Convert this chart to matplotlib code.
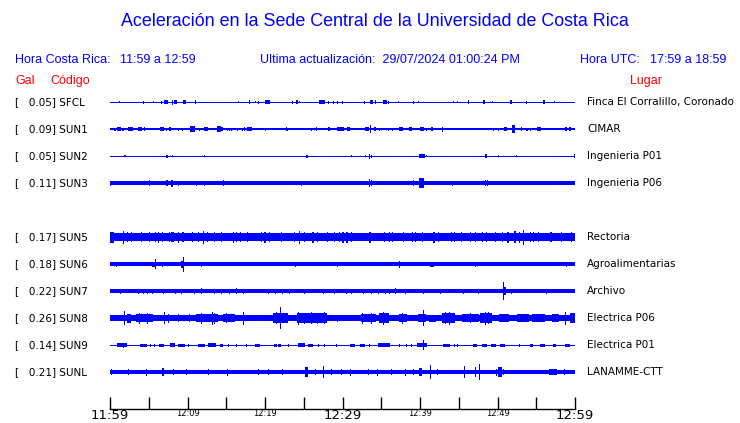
import matplotlib
matplotlib.use('Agg')
import matplotlib.pyplot as plt

# station rows (row 4 left empty, like the reference)
codes = ['SFCL', 'SUN1', 'SUN2', 'SUN3', 'SUN5', 'SUN6', 'SUN7', 'SUN8', 'SUN9', 'SUNL']
rows = [0, 1, 2, 3, 5, 6, 7, 8, 9, 10]
gal = [0.05, 0.09, 0.05, 0.11, 0.17, 0.18, 0.22, 0.26, 0.14, 0.21]
places = ['Finca El Corralillo, Coronado', 'CIMAR', 'Ingenieria P01', 'Ingenieria P06',
          'Rectoria', 'Agroalimentarias', 'Archivo', 'Electrica P06', 'Electrica P01',
          'LANAMME-CTT']
# background half thickness of each trace (pixels)
base = [0.5, 0.6, 0.5, 1.9, 3.8, 1.6, 1.8, 2.8, 0.5, 2.4]

tick_minutes = [0, 10, 20, 30, 40, 50, 60]
tick_labels = ['11:59', '12:09', '12:19', '12:29', '12:39', '12:49', '12:59']

# bursts: (minute after 11:59, half amplitude px, width px)
ev_sfcl = [(1.2, 1.2, 1), (4.3, 1.5, 1), (5.6, 1.2, 1), (6.6, 1.5, 1), (7.2, 2.0, 4), (8.0, 2.5, 1),
           (8.5, 2.0, 3), (9.6, 1.8, 3), (11.0, 1.8, 1), (16.6, 1.2, 1), (18.0, 1.8, 1), (18.8, 1.2, 1),
           (19.1, 1.5, 1), (20.3, 1.8, 5), (23.5, 1.5, 1), (24.1, 1.8, 2), (24.5, 1.2, 1), (27.3, 2.0, 6),
           (28.2, 1.5, 1), (28.8, 1.5, 1), (29.4, 1.5, 1), (30.0, 1.5, 1), (32.8, 1.5, 1), (33.8, 2.0, 3),
           (34.3, 2.0, 1), (35.5, 2.0, 4), (35.9, 1.5, 1), (37.2, 1.2, 1), (39.2, 1.5, 1), (39.8, 1.2, 1),
           (44.3, 1.2, 1), (44.9, 1.2, 1), (46.2, 1.8, 1), (48.3, 1.8, 2), (49.3, 1.2, 1), (51.8, 1.8, 2),
           (53.8, 1.5, 1), (56.0, 1.8, 2), (57.3, 1.2, 1)]
ev_sun1 = [(0.4, 1.2, 1), (0.7, 1.5, 2), (1.2, 2.2, 4), (1.7, 1.5, 2), (1.9, 1.2, 1), (2.7, 2.0, 5),
           (3.9, 2.0, 4), (4.5, 1.8, 1), (5.1, 1.2, 1), (6.0, 1.2, 1), (6.7, 2.0, 4), (7.3, 1.5, 1),
           (7.7, 1.8, 2), (8.0, 1.2, 1), (8.8, 1.5, 1), (9.3, 1.5, 1), (9.7, 1.2, 1), (10.7, 3.0, 5),
           (11.6, 1.5, 1), (12.4, 2.0, 4), (13.1, 1.2, 1), (14.0, 2.8, 4), (14.5, 1.8, 2), (15.1, 1.5, 1),
           (15.4, 1.5, 1), (15.7, 1.5, 1), (16.5, 1.5, 1), (17.1, 1.5, 1), (17.4, 1.8, 1), (18.0, 2.0, 5),
           (20.0, 1.5, 1), (20.2, 1.2, 1), (21.7, 1.2, 1), (22.8, 1.8, 1), (22.9, 1.5, 1), (26.0, 1.5, 1),
           (26.2, 1.2, 1), (26.7, 1.8, 1), (28.3, 1.8, 2), (29.6, 2.2, 5), (29.9, 2.0, 4), (30.8, 1.8, 3),
           (31.6, 1.2, 1), (32.6, 1.2, 1), (33.2, 2.0, 4), (33.6, 4.0, 1), (34.2, 1.8, 2), (34.8, 1.5, 1),
           (35.2, 1.2, 1), (35.9, 1.5, 1), (36.5, 1.5, 1), (37.5, 1.8, 4), (38.8, 2.0, 3), (40.3, 2.0, 4),
           (40.9, 1.5, 1), (41.5, 1.8, 2), (42.9, 2.5, 1), (44.4, 1.2, 1), (48.9, 1.2, 1), (49.5, 1.5, 1),
           (50.1, 1.5, 1), (51.0, 2.0, 3), (52.0, 4.0, 3), (53.1, 1.8, 1), (53.8, 1.5, 2), (54.2, 1.5, 1),
           (55.4, 1.8, 4), (56.6, 1.2, 1), (58.0, 1.2, 1), (58.8, 1.8, 2), (59.4, 1.8, 2)]
ev_sun2 = [(1.9, 1.2, 2), (7.3, 1.5, 2), (8.0, 1.2, 1), (12.2, 1.2, 1), (25.4, 1.5, 2), (31.1, 1.2, 1),
           (33.0, 1.2, 1), (33.5, 2.5, 1), (33.8, 1.5, 1), (40.2, 2.0, 6), (40.9, 1.2, 1), (48.5, 1.8, 2),
           (50.1, 1.2, 1), (52.4, 1.2, 1), (59.9, 1.8, 1)]
ev_sun3 = [(0.1, 2.5, 1), (5.1, 3.0, 1), (7.3, 3.0, 2), (8.0, 3.5, 2), (8.9, 2.5, 1), (11.1, 2.5, 1),
           (12.2, 2.5, 1), (14.6, 3.0, 1), (24.7, 2.5, 1), (33.5, 4.0, 1), (33.8, 3.0, 1), (39.1, 3.0, 1),
           (40.2, 5.0, 5), (44.2, 2.5, 1), (48.5, 3.0, 1), (48.7, 2.8, 1)]
ev_sun5 = [(0.3, 5.5, 4), (1.8, 6.5, 1), (2.3, 5.0, 1), (2.8, 5.0, 1), (4.0, 5.0, 1), (5.1, 5.0, 1),
           (5.9, 5.0, 1), (6.3, 5.5, 1), (6.8, 5.0, 1), (7.7, 5.0, 1), (7.9, 5.0, 1), (8.1, 5.0, 2),
           (8.8, 5.5, 1), (9.4, 5.0, 2), (10.7, 5.0, 1), (11.4, 5.0, 1), (12.0, 6.5, 1), (12.6, 5.0, 1),
           (13.5, 5.0, 1), (14.4, 5.0, 1), (15.9, 5.5, 1), (16.3, 5.0, 1), (16.9, 5.0, 1), (17.8, 5.0, 1),
           (19.5, 5.0, 1), (20.0, 5.5, 2), (20.6, 5.0, 1), (22.1, 5.0, 1), (23.8, 5.0, 1), (24.5, 6.5, 1),
           (25.1, 5.0, 1), (26.2, 5.5, 2), (26.8, 5.0, 1), (28.1, 5.0, 1), (29.0, 5.0, 1), (29.6, 5.0, 1),
           (30.0, 5.5, 2), (30.6, 5.5, 2), (31.2, 5.0, 1), (33.6, 5.5, 2), (35.4, 5.0, 1), (36.0, 5.0, 1),
           (36.4, 5.0, 1), (37.9, 5.0, 1), (39.0, 5.0, 1), (39.4, 5.0, 1), (40.3, 5.0, 1), (41.8, 5.5, 2),
           (42.4, 5.0, 1), (44.1, 5.0, 1), (44.5, 5.0, 1), (45.4, 5.0, 1), (46.5, 5.0, 1), (47.1, 5.0, 1),
           (48.0, 5.0, 1), (48.6, 5.0, 1), (49.7, 5.0, 1), (50.6, 5.0, 1), (51.4, 5.5, 2), (52.3, 6.0, 2),
           (52.9, 5.5, 1), (53.4, 7.5, 1), (54.2, 5.0, 1), (54.7, 5.0, 1), (55.3, 5.0, 1), (56.9, 5.0, 2),
           (58.3, 5.0, 1), (59.6, 5.0, 1)]
ev_sun6 = [(0.9, 2.5, 1), (5.6, 2.5, 3), (5.9, 4.7, 1), (6.8, 2.5, 1), (9.3, 3.5, 3), (9.5, 7.5, 1),
           (11.8, 2.5, 1), (12.5, 2.0, 1), (13.5, 2.0, 1), (15.5, 2.0, 1), (17.8, 2.0, 1), (21.7, 2.0, 1),
           (23.9, 2.5, 1), (25.2, 2.0, 1), (25.8, 2.0, 1), (26.5, 2.0, 1), (29.3, 2.5, 1), (32.9, 2.0, 8),
           (37.4, 3.5, 1), (38.5, 2.0, 1), (39.6, 2.0, 1), (41.6, 2.5, 4), (44.5, 2.0, 1), (46.2, 2.0, 1),
           (47.1, 2.5, 1), (49.3, 2.0, 1), (51.6, 2.0, 1), (53.5, 2.0, 1), (57.2, 2.0, 1), (58.9, 2.5, 1),
           (59.8, 2.0, 1)]
ev_sun7 = [(1.3, 2.5, 1), (3.7, 2.5, 1), (4.3, 2.5, 1), (4.9, 2.5, 1), (5.5, 2.5, 1), (6.9, 2.5, 1),
           (8.4, 2.5, 1), (9.2, 2.5, 1), (10.9, 2.5, 1), (11.8, 3.2, 1), (13.5, 2.5, 1), (14.4, 2.5, 1),
           (15.4, 2.5, 1), (16.3, 2.8, 1), (17.2, 2.5, 1), (20.4, 2.5, 1), (21.4, 2.5, 1), (22.2, 2.5, 1),
           (23.2, 2.5, 1), (25.1, 2.5, 1), (27.5, 2.5, 1), (29.0, 2.5, 1), (30.5, 2.5, 1), (31.2, 2.5, 1),
           (32.7, 2.5, 1), (33.8, 2.5, 1), (34.6, 2.5, 1), (35.5, 2.5, 1), (36.1, 2.5, 1), (36.9, 2.8, 1),
           (38.1, 2.5, 1), (40.4, 2.5, 1), (42.6, 2.5, 1), (45.6, 2.5, 1), (47.5, 2.5, 1), (50.8, 9.0, 1),
           (50.9, 4.0, 3), (51.8, 2.5, 1), (56.3, 2.5, 1)]
ev_sun8 = [(1.9, 6.7, 1), (2.5, 4.5, 4), (4.5, 4.3, 17), (3.8, 5.5, 1), (4.9, 5.5, 1), (7.0, 6.0, 1),
           (7.5, 4.5, 1), (8.8, 4.0, 1), (10.3, 3.8, 1), (12.5, 4.3, 22), (11.8, 5.5, 1), (13.2, 6.5, 1),
           (13.5, 5.5, 1), (15.35, 3.8, 12), (15.0, 5.0, 1), (17.2, 6.5, 1), (18.9, 3.4, 17), (22.0, 4.7, 15),
           (22.0, 10.7, 1), (21.5, 6.0, 1), (26.0, 4.7, 30), (24.3, 6.5, 1), (25.1, 5.5, 1), (26.0, 6.0, 1),
           (26.8, 5.5, 1), (27.7, 6.0, 1), (29.4, 3.5, 1), (33.3, 4.3, 15), (32.6, 5.5, 1), (33.8, 5.5, 1),
           (35.3, 5.0, 10), (35.3, 6.5, 1), (37.8, 4.3, 8), (37.7, 5.5, 1), (40.2, 4.3, 8), (40.4, 8.0, 1),
           (41.6, 3.5, 7), (43.7, 5.0, 13), (43.8, 6.5, 1), (43.3, 6.0, 1), (46.5, 3.8, 17), (46.5, 5.0, 1),
           (48.5, 5.0, 12), (48.5, 6.5, 1), (48.9, 6.0, 1), (50.8, 4.3, 10), (53.3, 3.8, 12), (55.3, 4.3, 13),
           (57.5, 4.3, 7), (58.8, 6.5, 1), (59.7, 5.0, 5)]
ev_sun9 = [(1.6, 1.8, 10), (1.8, 2.5, 1), (4.3, 1.5, 7), (5.2, 1.5, 1), (5.8, 1.5, 1), (6.7, 1.5, 5),
           (8.1, 1.8, 5), (9.2, 1.5, 7), (10.1, 1.5, 1), (11.8, 1.5, 7), (13.1, 1.8, 8), (14.4, 1.5, 3),
           (15.3, 1.5, 1), (16.3, 1.5, 1), (17.6, 1.5, 1), (19.0, 1.5, 5), (21.3, 1.5, 3), (21.9, 1.5, 3),
           (23.0, 1.5, 1), (24.7, 1.8, 7), (25.9, 1.5, 5), (26.9, 1.5, 1), (27.7, 1.5, 1), (29.2, 1.5, 1),
           (31.3, 1.5, 5), (32.6, 1.5, 5), (33.5, 1.5, 1), (35.4, 1.8, 12), (37.4, 1.5, 1), (38.3, 1.5, 1),
           (38.9, 1.5, 1), (40.2, 1.8, 10), (40.4, 5.0, 1), (43.4, 1.5, 7), (44.5, 1.5, 1), (44.9, 1.5, 1),
           (47.1, 1.5, 4), (48.3, 1.5, 5), (49.5, 1.5, 5), (50.6, 1.5, 5), (52.9, 1.5, 1), (54.4, 1.5, 3),
           (55.8, 1.5, 5), (57.4, 1.5, 3), (59.0, 1.5, 5)]
ev_sunl = [(0.2, 3.0, 1), (2.4, 3.0, 1), (4.7, 3.5, 1), (6.8, 4.0, 2), (8.2, 3.0, 1), (9.9, 3.0, 1),
           (12.7, 3.0, 1), (15.1, 3.5, 1), (19.1, 3.0, 1), (20.4, 3.0, 1), (22.2, 3.0, 1), (25.4, 5.0, 3),
           (26.5, 3.0, 1), (27.5, 6.0, 1), (28.6, 3.0, 1), (29.9, 3.0, 1), (31.0, 3.5, 1), (33.3, 3.0, 1),
           (34.5, 3.5, 1), (36.3, 3.0, 1), (38.1, 3.5, 1), (39.1, 3.0, 1), (40.0, 4.0, 3), (41.4, 7.0, 1),
           (42.2, 3.0, 1), (45.7, 5.7, 1), (47.2, 5.0, 1), (47.7, 7.8, 1), (49.9, 3.5, 1), (50.3, 5.0, 4),
           (50.8, 3.0, 1), (57.1, 3.0, 8), (58.7, 3.0, 1)]
events = [ev_sfcl, ev_sun1, ev_sun2, ev_sun3, ev_sun5, ev_sun6, ev_sun7, ev_sun8, ev_sun9, ev_sunl]

W, H = 740, 423
BLUE = '#0000ff'
ROW_PX = 27.0           # pixel gap between traces
MIN_PER_PX = 60 / 465.0  # trace spans 465 px for 60 min

fig = plt.figure(figsize=(W / 100, H / 100), dpi=100)
fig.patch.set_facecolor('white')

# trace axes: 110..575 px horizontally, bottom axis line at y=409
ax = fig.add_axes([110 / W, (H - 409) / H, 465 / W, (409 - 90) / H])
ax.set_xlim(0, 60)
ax.set_ylim((409 - 102) / ROW_PX, (90 - 102) / ROW_PX)

for r, b, ev in zip(rows, base, events):
    ax.fill_between([0, 60], r - b / ROW_PX, r + b / ROW_PX, color=BLUE, lw=0)
    for m, a, w in ev:
        ax.bar(m, 2 * a / ROW_PX, bottom=r - a / ROW_PX, width=w * MIN_PER_PX,
               color=BLUE, lw=0, align='center')

for s in ['top', 'left', 'right']:
    ax.spines[s].set_visible(False)
ax.spines['bottom'].set_linewidth(1.0)
ax.set_yticks([])
ax.set_xticks(tick_minutes)
ax.set_xticklabels(tick_labels)
ax.set_xticks([5, 15, 25, 35, 45, 55], minor=True)
ax.tick_params(axis='x', which='both', direction='in', length=9, width=1, pad=0)
for i, lab in enumerate(ax.get_xticklabels()):
    lab.set_family('DejaVu Sans')
    lab.set_fontsize(9.5 if i % 3 == 0 else 6)


def put(x, y, s, **kw):
    fig.text(x / W, 1 - y / H, s, **kw)


put(375, 22, 'Aceleración en la Sede Central de la Universidad de Costa Rica',
    ha='center', va='center', color=BLUE, fontsize=12.9, family='Liberation Sans')

hdr = dict(va='center', color=BLUE, fontsize=9, family='Liberation Sans')
put(15, 60, 'Hora Costa Rica:', **hdr)
put(120, 60, '11:59 a 12:59', **hdr)
put(260, 60, 'Ultima actualización:  29/07/2024 01:00:24 PM', **hdr)
put(580, 60, 'Hora UTC:', **hdr)
put(650, 60, '17:59 a 18:59', **hdr)

red = dict(va='center', color='#ff0000', fontsize=9, family='Liberation Sans')
put(15, 81, 'Gal', **red)
put(50, 81, 'Código', **red)
put(630, 81, 'Lugar', **red)

for r, g, c, p in zip(rows, gal, codes, places):
    y = 102 + r * ROW_PX
    put(15, y, f'[   {g:.2f}] {c}', va='center', fontsize=7.5, family='DejaVu Sans')
    put(587, y, p, va='center', fontsize=7.5, family='DejaVu Sans')

fig.savefig('out.png', dpi=100)
